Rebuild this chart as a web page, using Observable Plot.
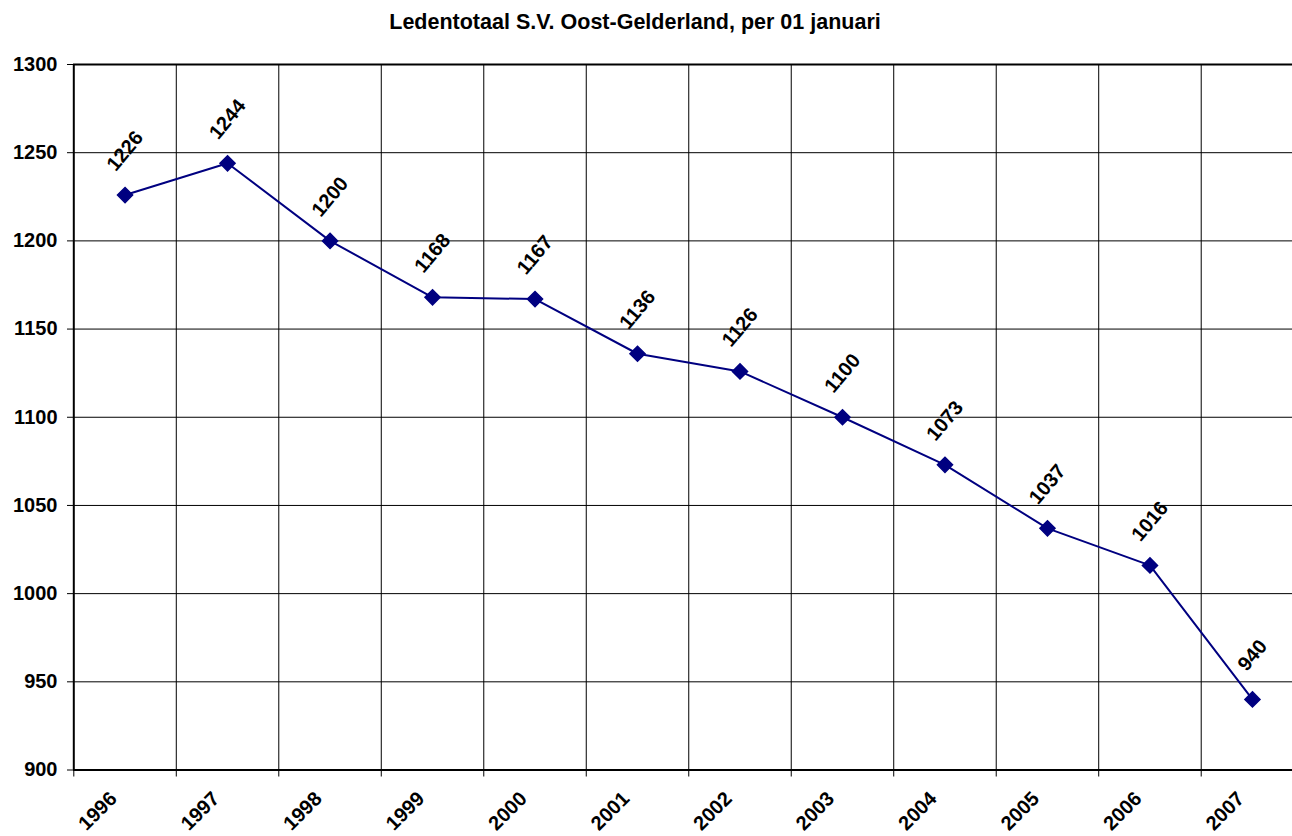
<!DOCTYPE html>
<html>
<head>
<meta charset="utf-8">
<script src="https://cdn.jsdelivr.net/npm/d3@7"></script>
<script src="https://cdn.jsdelivr.net/npm/@observablehq/plot@0.6"></script>
<style>
  html, body { margin: 0; padding: 0; background: #fff; }
  #wrap { position: relative; width: 1292px; height: 836px; overflow: hidden; }
  #title { position: absolute; left: 0; top: 12px; width: 1270px; text-align: center;
    font: bold 21.5px "Liberation Sans", Arial, sans-serif; line-height: 21px; color: #000; }
  #chart { position: absolute; left: 0; top: 0; }
</style>
</head>
<body>
<div id="wrap">
  <div id="chart"></div>
  <div id="title">Ledentotaal S.V. Oost-Gelderland, per 01 januari</div>
</div>
<script>
const years = [1996, 1997, 1998, 1999, 2000, 2001, 2002, 2003, 2004, 2005, 2006, 2007];
const members = [1226, 1244, 1200, 1168, 1167, 1136, 1126, 1100, 1073, 1037, 1016, 940];
const yTicks = [900, 950, 1000, 1050, 1100, 1150, 1200, 1250, 1300];

const data = years.map((y, i) => ({year: y, value: members[i]}));
const boundaries = years.map(y => y - 0.5);
const inner = boundaries.slice(1);
const font = '"Liberation Sans", Arial, sans-serif';

const chart = Plot.plot({
  width: 1292,
  height: 836,
  marginLeft: 73,
  marginTop: 64,
  marginBottom: 66.5,
  marginRight: 0,
  style: {fontFamily: font, background: "white", overflow: "visible"},
  x: {type: "linear", domain: [years[0] - 0.5, years[years.length - 1] + 0.5], range: [73.3, 1303.2]},
  y: {domain: [900, 1300], range: [769.5, 64]},
  marks: [
    Plot.ruleY(yTicks.slice(1, -1), {stroke: "#000", strokeWidth: 1}),
    Plot.ruleX(inner, {stroke: "#000", strokeWidth: 1}),
    Plot.ruleY([1300], {stroke: "#000", strokeWidth: 2}),
    Plot.ruleY([900], {stroke: "#000", strokeWidth: 2}),
    Plot.ruleX([boundaries[0]], {stroke: "#000", strokeWidth: 2}),
    Plot.axisY({ticks: yTicks, tickSize: 6, tickPadding: 10, tickFormat: d => String(d),
      fontSize: 20, fontWeight: "bold", fill: "#000", stroke: "#000", label: null}),
    Plot.axisX({ticks: boundaries, tickSize: 7, tickFormat: () => "", label: null, stroke: "#000"}),
    Plot.text(data, {x: "year", text: d => String(d.year), frameAnchor: "bottom",
      rotate: -45, textAnchor: "end", dx: -7, dy: 30, fontSize: 20, fontWeight: "bold", fill: "#000"}),
    Plot.line(data, {x: "year", y: "value", stroke: "#000080", strokeWidth: 2}),
    Plot.dot(data, {x: "year", y: "value", symbol: "diamond2", r: 6.8, fill: "#000080", stroke: "#000080"}),
    Plot.text(data, {x: "year", y: "value", text: d => String(d.value), rotate: -50,
      dy: -44, fontSize: 20, fontWeight: "bold", fill: "#000"})
  ]
});
document.getElementById("chart").appendChild(chart);
</script>
</body>
</html>
